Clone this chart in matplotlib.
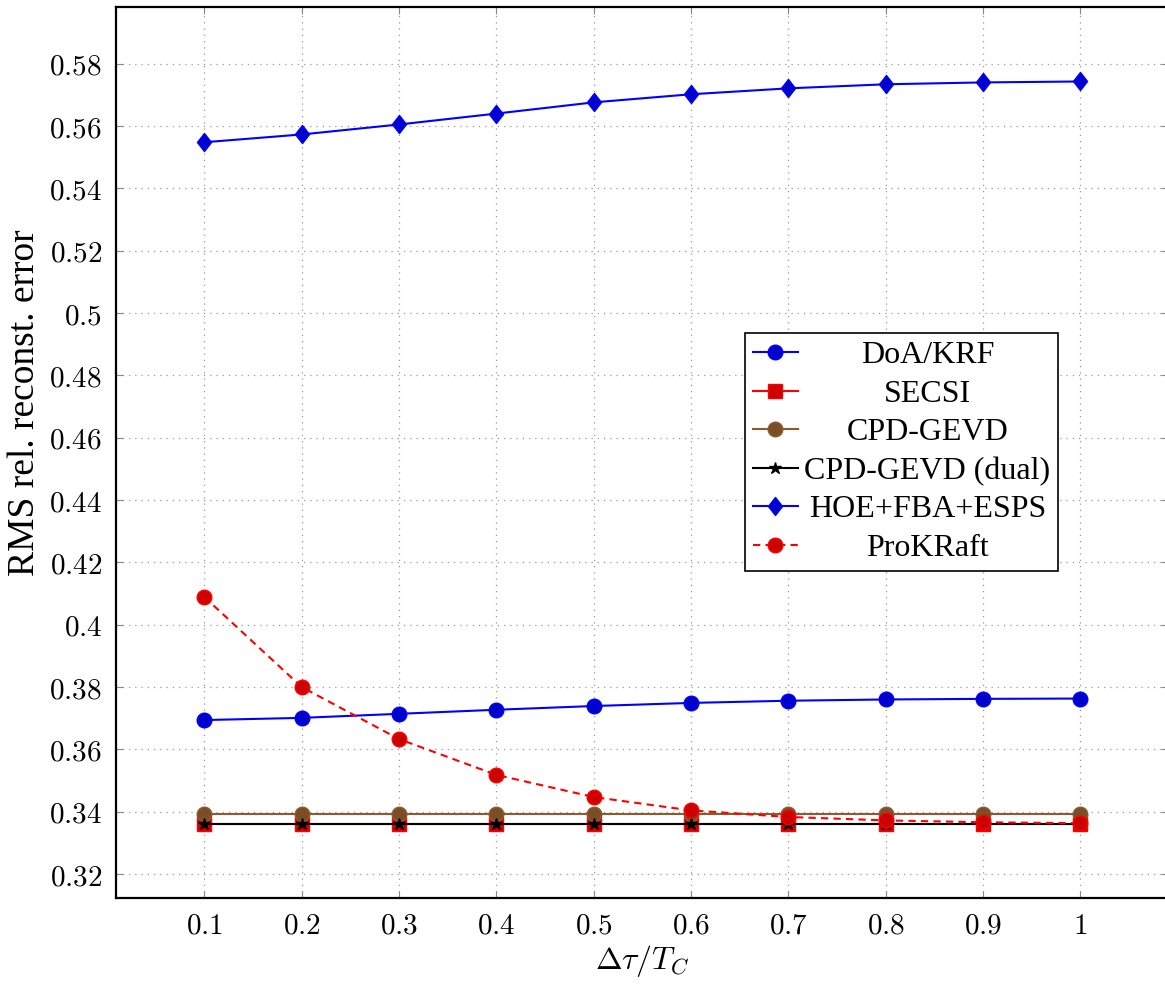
import matplotlib
matplotlib.use("Agg")
import matplotlib.pyplot as plt
from matplotlib.path import Path
import numpy as np

plt.rcParams['mathtext.fontset'] = 'cm'
plt.rcParams['axes.formatter.use_mathtext'] = True

x = [0.1, 0.2, 0.3, 0.4, 0.5, 0.6, 0.7, 0.8, 0.9, 1.0]
doa_krf = [0.3694, 0.3701, 0.3714, 0.3727, 0.3739, 0.3749, 0.3756, 0.3760, 0.3762, 0.3763]
secsi = [0.3361, 0.3361, 0.3361, 0.3361, 0.3361, 0.3361, 0.3361, 0.3361, 0.3361, 0.3361]
cpd_gevd = [0.3393, 0.3393, 0.3393, 0.3393, 0.3393, 0.3393, 0.3393, 0.3393, 0.3393, 0.3393]
cpd_gevd_dual = [0.3362, 0.3362, 0.3362, 0.3362, 0.3362, 0.3362, 0.3362, 0.3362, 0.3362, 0.3362]
hoe_fba_esps = [0.5548, 0.5573, 0.5605, 0.5640, 0.5676, 0.5702, 0.5721, 0.5734, 0.5740, 0.5743]
prokraft = [0.4089, 0.3800, 0.3633, 0.3518, 0.3447, 0.3404, 0.3383, 0.3372, 0.3366, 0.3363]

xticks = [0.1, 0.2, 0.3, 0.4, 0.5, 0.6, 0.7, 0.8, 0.9, 1.0]
xticklabels = ['0.1', '0.2', '0.3', '0.4', '0.5', '0.6', '0.7', '0.8', '0.9', '1']
yticks = [0.32, 0.34, 0.36, 0.38, 0.40, 0.42, 0.44, 0.46, 0.48, 0.50, 0.52, 0.54, 0.56, 0.58]
yticklabels = ['0.32', '0.34', '0.36', '0.38', '0.4', '0.42', '0.44', '0.46', '0.48', '0.5',
               '0.52', '0.54', '0.56', '0.58']
labels = ['DoA/KRF', 'SECSI', 'CPD-GEVD', 'CPD-GEVD (dual)', 'HOE+FBA+ESPS', 'ProKRaft']

W, H = 1165, 985
fig = plt.figure(figsize=(W / 100, H / 100), dpi=100)
left, right, top, bottom = 116, 1168, 7, 898
ax = fig.add_axes([left / W, 1 - bottom / H, (right - left) / W, (bottom - top) / H])

diamond = Path([(0, 1), (0.78, 0), (0, -1), (-0.78, 0), (0, 1)],
               [Path.MOVETO, Path.LINETO, Path.LINETO, Path.LINETO, Path.CLOSEPOLY])

lw = 1.5
ax.plot(x, doa_krf, color='#0000ff', lw=lw, marker='o', ms=10.5,
        mfc='#0000cc', mec='#0000ff', label=labels[0], zorder=3)
ax.plot(x, secsi, color='#ff0000', lw=lw, marker='s', ms=10,
        mfc='#cc0000', mec='#ff0000', label=labels[1], zorder=3)
ax.plot(x, cpd_gevd, color='#8c5a2e', lw=lw, marker='o', ms=10.5,
        mfc='#7a4f28', mec='#8c5a2e', label=labels[2], zorder=3)
ax.plot(x, cpd_gevd_dual, color='#000000', lw=lw, marker='*', ms=9,
        mfc='#000000', mec='#000000', label=labels[3], zorder=4)
ax.plot(x, hoe_fba_esps, color='#0000ff', lw=lw, marker=diamond, ms=13,
        mfc='#0000cc', mec='#0000ff', label=labels[4], zorder=3)
ax.plot(x, prokraft, color='#ff0000', lw=lw, ls=(0, (3.5, 2.5)), marker='o', ms=10.5,
        mfc='#cc0000', mec='#ff0000', label=labels[5], zorder=5)

ax.set_xlim(0.0093, 1.09)
ax.set_ylim(0.3123, 0.5982)
ax.set_xticks(xticks)
ax.set_xticklabels(['$' + s + '$' for s in xticklabels], fontsize=21)
ax.set_yticks(yticks)
ax.set_yticklabels(['$' + s + '$' for s in yticklabels], fontsize=21)
ax.tick_params(direction='in', top=True, right=True, length=5, width=0.8,
               color='#888888', pad=10)
ax.grid(True, ls=(0, (1, 4)), color='#999999', lw=0.9)
for sp in ax.spines.values():
    sp.set_linewidth(1.6)

ax.set_xlabel(r'$\Delta\tau/T_C$', fontsize=23, labelpad=2)
ax.set_ylabel('RMS rel. reconst. error', fontsize=27, family='Liberation Serif')
ax.yaxis.set_label_coords(-0.07, 0.556)

leg = ax.legend(loc='upper left', bbox_to_anchor=(0.598, 0.634), borderaxespad=0,
                prop={'family': 'Liberation Serif', 'size': 23}, fancybox=False,
                edgecolor='black', framealpha=1, handlelength=1.4, handletextpad=0.2,
                labelspacing=0.285, borderpad=0.25)
leg.get_frame().set_linewidth(1.2)

# center legend texts within the column like pgfplots
fig.canvas.draw()
r = fig.canvas.get_renderer()
widths = [t.get_window_extent(r).width for t in leg.get_texts()]
mw = max(widths)
for t, w in zip(leg.get_texts(), widths):
    t.set_x((mw - w) / 2)

fig.savefig('out.png', dpi=100)
